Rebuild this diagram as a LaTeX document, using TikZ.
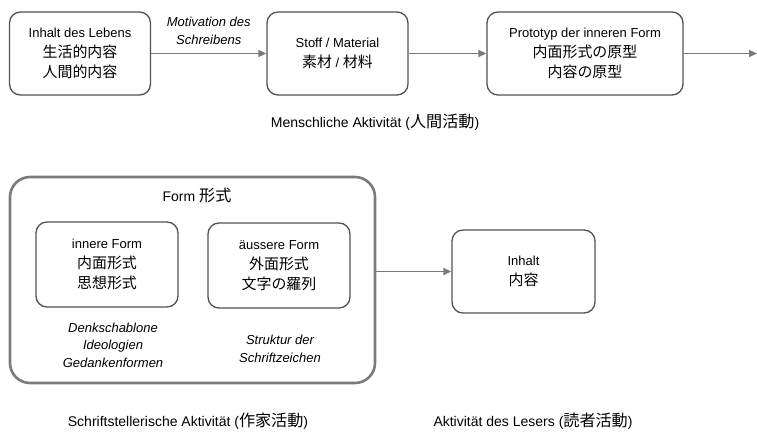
\documentclass[tikz,border=0pt]{standalone}
\usepackage{fontspec}
\setmainfont{Liberation Sans}
\newfontfamily\cjk{Noto Sans CJK JP}[Scale=1.15]
\usetikzlibrary{positioning, arrows.meta}

\begin{document}
\begin{tikzpicture}[x=1pt,y=-1pt,
  box/.style={draw=black!68,line width=1.3pt,rounded corners=11pt,align=center,
    minimum width=141pt,minimum height=83pt,font=\fontsize{13}{20}\selectfont},
  frame/.style={draw=black!52,line width=2.6pt,rounded corners=20pt,
    minimum width=365pt,minimum height=206pt},
  conn/.style={draw=black!52,line width=1.3pt,-{Triangle[length=8pt,width=7pt]}},
  note/.style={font=\fontsize{13}{17.5}\selectfont\itshape,align=center},
  caption/.style={font=\fontsize{14}{16}\selectfont}]
\useasboundingbox (0,0) rectangle (757,433);
% obere Reihe
\node[box] (leben) at (80,53.5) {Inhalt des Lebens\\{\cjk 生活的内容}\\{\cjk 人間的内容}};
\node[box] (stoff) at (337.5,53.5) {Stoff / Material\\{\cjk 素材} / {\cjk 材料}};
\node[box,minimum width=196pt] (proto) at (585,53.5) {Prototyp der inneren Form\\{\cjk 内面形式の原型}\\{\cjk 内容の原型}};
\coordinate (weiter) at (757,53.5);
\draw[conn] (leben) -- node[note,above=5pt]{Motivation des\\Schreibens} (stoff);
\draw[conn] (stoff) -- (proto);
\draw[conn] (proto) -- (weiter);
\node[caption] (mensch) at (375,122) {Menschliche Aktivität ({\cjk 人間活動})};
% untere Reihe
\node[frame] (form) at (192.5,280) {};
\node[caption] (formtitel) at (197,195) {Form {\cjk 形式}};
\node[box,minimum width=142pt,minimum height=85pt] (innen) at (107,264.5) {innere Form\\{\cjk 内面形式}\\{\cjk 思想形式}};
\node[box,minimum width=142pt,minimum height=85pt] (aussen) at (279,265.5) {äussere Form\\{\cjk 外面形式}\\{\cjk 文字の羅列}};
\node[note] (denk) at (113,345) {Denkschablone\\Ideologien\\Gedankenformen};
\node[note] (struktur) at (280,349) {Struktur der\\Schriftzeichen};
\node[box,minimum width=143pt] (inhalt) at (523.5,271.5) {Inhalt\\{\cjk 内容}};
\draw[conn] (form.east |- inhalt.west) -- (inhalt.west);
\node[caption] (autor) at (188,421) {Schriftstellerische Aktivität ({\cjk 作家活動})};
\node[caption] (leser) at (533,421) {Aktivität des Lesers ({\cjk 読者活動})};
\end{tikzpicture}
\end{document}
